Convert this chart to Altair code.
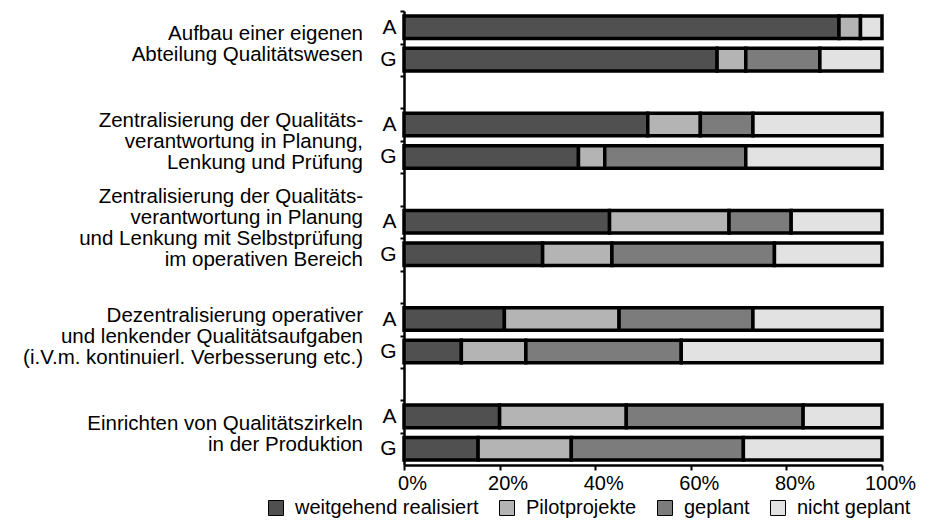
import altair as alt
import pandas as pd

FONT = "Liberation Sans"

groups = [
    "Aufbau einer eigenen\nAbteilung Qualitätswesen",
    "Zentralisierung der Qualitäts-\nverantwortung in Planung,\nLenkung und Prüfung",
    "Zentralisierung der Qualitäts-\nverantwortung in Planung\nund Lenkung mit Selbstprüfung\nim operativen Bereich",
    "Dezentralisierung operativer\nund lenkender Qualitätsaufgaben\n(i.V.m. kontinuierl. Verbesserung etc.)",
    "Einrichten von Qualitätszirkeln\nin der Produktion",
]
rows = ["A", "G"]
statuses = ["weitgehend realisiert", "Pilotprojekte", "geplant", "nicht geplant"]
colors = ["#505050", "#b4b4b4", "#7c7c7c", "#e2e2e2"]

# percentages, one value per group (top to bottom)
weit_A = [91, 51, 43, 21, 20]
pilot_A = [4.5, 11, 25, 24, 26.5]
geplant_A = [0, 11, 13, 28, 37]
nicht_A = [4.5, 27, 19, 27, 16.5]

weit_G = [65.5, 36.5, 29, 12, 15.5]
pilot_G = [6, 5.5, 14.5, 13.5, 19.5]
geplant_G = [15.5, 29.5, 34, 32.5, 36]
nicht_G = [13, 28.5, 22.5, 42, 29]

series = {
    "A": [weit_A, pilot_A, geplant_A, nicht_A],
    "G": [weit_G, pilot_G, geplant_G, nicht_G],
}

records = []
for gi in range(len(groups)):
    for row in rows:
        for si, s in enumerate(statuses):
            v = series[row][si][gi]
            if v > 0:
                records.append({"slot": f"{gi+1}{row}", "status": s, "order": si, "value": v})
df = pd.DataFrame(records)

slots = []
for gi in range(len(groups)):
    slots += [f"{gi+1}A", f"{gi+1}G"]
    if gi < len(groups) - 1:
        slots.append(f"{gi+1}-")

gdf = pd.DataFrame({"slot": [f"{i+1}A" for i in range(len(groups))], "label": groups})

yscale = alt.Scale(domain=slots, paddingInner=0.305, paddingOuter=0.1525)


def y_axis():
    return alt.Axis(
        title=None,
        labelExpr="substring(datum.value, 1) == '-' ? '' : substring(datum.value, 1)",
        labelFontSize=21,
        labelFont=FONT,
        labelColor="black",
        labelPadding=4,
        labelOffset=16,
        domainColor="black",
        domainWidth=2.5,
        tickColor="black",
        tickWidth=2,
        tickSize=4,
        tickOffset=-16,
        grid=False,
    )


bars = alt.Chart(df).mark_bar(stroke="black", strokeWidth=3.5).encode(
    x=alt.X(
        "value:Q",
        stack="zero",
        scale=alt.Scale(domain=[0, 100], nice=False),
        axis=alt.Axis(
            values=[0, 20, 40, 60, 80, 100],
            labelExpr="datum.value + '%'",
            title=None,
            grid=False,
            domainColor="black",
            domainWidth=2.5,
            tickColor="black",
            tickWidth=2,
            tickSize=5,
            labelFontSize=20,
            labelFont=FONT,
            labelColor="black",
            labelOffset=8,
            labelPadding=3,
            labelFlush=False,
            labelOverlap=False,
        ),
    ),
    y=alt.Y("slot:N", scale=yscale, sort=slots, axis=y_axis()),
    color=alt.Color(
        "status:N",
        scale=alt.Scale(domain=statuses, range=colors),
        legend=alt.Legend(
            orient="none",
            legendX=-138,
            legendY=487,
            direction="horizontal",
            columns=4,
            title=None,
            symbolType="square",
            symbolSize=225,
            symbolStrokeColor="black",
            symbolStrokeWidth=1,
            labelFontSize=20,
            labelFont=FONT,
            labelColor="black",
            labelLimit=0,
            columnPadding=18,
            labelOffset=9,
            padding=0,
        ),
    ),
    order=alt.Order("order:Q"),
)

text = (
    alt.Chart(gdf)
    .transform_calculate(n="length(split(datum.label, '\\n'))")
    .transform_calculate(shift="datum.n >= 4 ? -14 : 29 - (datum.n - 1) * 10.5")
    .mark_text(
        align="right",
        baseline="middle",
        fontSize=20.5,
        lineHeight=21,
        lineBreak="\n",
        font=FONT,
        color="black",
    )
    .encode(
        y=alt.Y("slot:N", scale=yscale, sort=slots, axis=y_axis()),
        yOffset=alt.YOffset("shift:Q", scale=None),
        x=alt.value(-41),
        text="label:N",
    )
)

chart = (
    alt.layer(bars, text)
    .properties(
        width=478,
        height=454,
        padding={"left": 396, "top": 3, "right": 41, "bottom": 54},
        autosize=alt.AutoSizeParams(type="none"),
        background="white",
    )
    .configure_view(stroke=None)
)

chart.save("out.html", embed_options={"renderer": "svg", "actions": False})
